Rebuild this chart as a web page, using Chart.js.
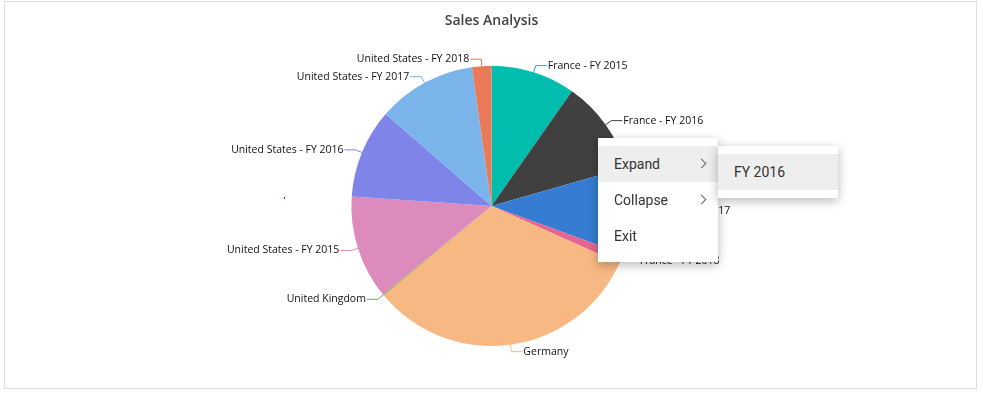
<!DOCTYPE html>
<html>
<head>
<meta charset="utf-8">
<script src="https://cdn.jsdelivr.net/npm/chart.js@4"></script>
<style>
  html, body { margin: 0; padding: 0; background: #fff; }
  body { width: 983px; height: 394px; position: relative; overflow: hidden; font-family: Roboto, "Noto Sans", sans-serif; }
  #frame { position: absolute; left: 4px; top: 1px; width: 971px; height: 386px; border: 1px solid #dddddd; }
  #chart { position: absolute; left: 0; top: 0; }
  .menu { position: absolute; background: #fff; box-shadow: 0 3px 10px rgba(0,0,0,0.28); padding: 8px 0; }
  .menu .item { height: 36px; line-height: 36px; padding-left: 16px; font-size: 14px; color: #333; position: relative; }
  .menu .item.active { background: #eeeeee; }
  .menu .arrow { position: absolute; right: 13px; top: 14px; width: 6px; height: 6px;
    border-right: 1.3px solid #666; border-top: 1.3px solid #666; transform: rotate(45deg); }
  #mainMenu { left: 598px; top: 138px; width: 120px; }
  #subMenu { left: 718px; top: 146px; width: 120px; }
  #dot { position: absolute; left: 284px; top: 197px; width: 1px; height: 2px; background: #e00; }
</style>
</head>
<body>
<div id="frame"></div>
<canvas id="chart" width="983" height="394"></canvas>
<div id="dot"></div>
<div class="menu" id="mainMenu">
  <div class="item active">Expand<span class="arrow"></span></div>
  <div class="item">Collapse<span class="arrow"></span></div>
  <div class="item">Exit</div>
</div>
<div class="menu" id="subMenu">
  <div class="item active">FY 2016</div>
</div>
<script>
(function () {
    'use strict';

    // Données
    const categories = [
        'France - FY 2015', 'France - FY 2016', 'France - FY 2017', 'France - FY 2018',
        'Germany', 'United Kingdom',
        'United States - FY 2015', 'United States - FY 2016', 'United States - FY 2017', 'United States - FY 2018'
    ];
    const salesValues = [35, 39, 36, 4, 116, 0.5, 43, 37, 41, 8];
    const sliceColors = ['#00bdae', '#404041', '#357cd2', '#e56590', '#f8b883',
        '#70ad47', '#dd8abd', '#7f84e8', '#7bb4eb', '#ea7a57'];

    /**
     * Étiquettes extérieures avec lignes de rappel
     */
    const outsideLabels = {
        id: 'outsideLabels',
        afterDatasetsDraw(chart) {
            const ctx = chart.ctx;
            const meta = chart.getDatasetMeta(0);
            ctx.save();
            ctx.font = '10.5px "Open Sans", "Noto Sans", sans-serif';
            ctx.textBaseline = 'middle';
            meta.data.forEach((arc, i) => {
                const p = arc.getProps(['x', 'y', 'startAngle', 'endAngle', 'outerRadius'], true);
                const mid = (p.startAngle + p.endAngle) / 2;
                const cos = Math.cos(mid), sin = Math.sin(mid);
                const x0 = p.x + cos * p.outerRadius, y0 = p.y + sin * p.outerRadius;
                const x1 = p.x + cos * (p.outerRadius + 7), y1 = p.y + sin * (p.outerRadius + 7);
                const right = cos >= 0;
                const x2 = x1 + (right ? 11 : -11);

                ctx.strokeStyle = sliceColors[i];
                ctx.lineWidth = 1;
                ctx.beginPath();
                ctx.moveTo(x0, y0);
                ctx.lineTo(x1, y1);
                ctx.lineTo(x2, y1);
                ctx.stroke();

                ctx.fillStyle = '#111';
                ctx.textAlign = right ? 'left' : 'right';
                ctx.fillText(categories[i], x2 + (right ? 1 : -1), y1);
            });
            ctx.restore();
        }
    };

    new Chart(document.getElementById('chart'), {
        type: 'pie',
        data: {
            labels: categories,
            datasets: [{
                data: salesValues,
                backgroundColor: sliceColors,
                borderWidth: 0
            }]
        },
        options: {
            responsive: false,
            animation: false,
            layout: { padding: { top: 0, bottom: 48, left: 0, right: 0 } },
            plugins: {
                legend: { display: false },
                tooltip: { enabled: false },
                title: {
                    display: true,
                    text: 'Sales Analysis',
                    color: '#424242',
                    font: { family: '"Open Sans", "Noto Sans", sans-serif', size: 14, weight: '600', lineHeight: 1.2 },
                    padding: { top: 13, bottom: 36 }
                }
            }
        },
        plugins: [outsideLabels]
    });
})();
</script>
</body>
</html>
